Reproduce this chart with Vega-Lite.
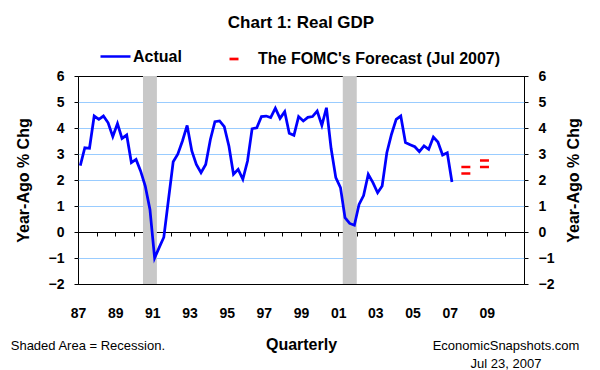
{
  "$schema": "https://vega.github.io/schema/vega-lite/v6.json",
  "width": 446,
  "height": 208,
  "autosize": {"type": "none"},
  "padding": {"left": 78, "top": 76, "right": 76, "bottom": 86},
  "background": "white",
  "title": {"text": "Chart 1: Real GDP", "font": "Liberation Sans", "fontSize": 17, "fontWeight": "bold", "color": "black", "anchor": "middle", "offset": 8},
  "config": {
    "font": "Liberation Sans",
    "view": {"stroke": "black", "strokeWidth": 1},
    "axis": {"labelFont": "Liberation Sans", "labelFontSize": 14, "labelFontWeight": "bold", "labelColor": "black", "titleFont": "Liberation Sans", "titleFontSize": 16, "titleFontWeight": "bold", "titleColor": "black", "tickColor": "black", "domainColor": "black", "tickSize": 4},
    "legend": {"labelFont": "Liberation Sans", "labelFontSize": 16, "labelFontWeight": "bold", "labelColor": "black", "padding": 0, "labelLimit": 0}
  },
  "datasets": {
    "gdp": [
      {"date": "1987-02-15", "pct": 2.55}, {"date": "1987-05-15", "pct": 3.24}, {"date": "1987-08-15", "pct": 3.22}, {"date": "1987-11-15", "pct": 4.46},
      {"date": "1988-02-15", "pct": 4.33}, {"date": "1988-05-15", "pct": 4.46}, {"date": "1988-08-15", "pct": 4.2}, {"date": "1988-11-15", "pct": 3.67},
      {"date": "1989-02-15", "pct": 4.17}, {"date": "1989-05-15", "pct": 3.6}, {"date": "1989-08-15", "pct": 3.73}, {"date": "1989-11-15", "pct": 2.67},
      {"date": "1990-02-15", "pct": 2.79}, {"date": "1990-05-15", "pct": 2.35}, {"date": "1990-08-15", "pct": 1.77}, {"date": "1990-11-15", "pct": 0.87},
      {"date": "1991-02-15", "pct": -1.0}, {"date": "1991-05-15", "pct": -0.6}, {"date": "1991-08-15", "pct": -0.2}, {"date": "1991-11-15", "pct": 1.26},
      {"date": "1992-02-15", "pct": 2.7}, {"date": "1992-05-15", "pct": 2.99}, {"date": "1992-08-15", "pct": 3.5}, {"date": "1992-11-15", "pct": 4.1},
      {"date": "1993-02-15", "pct": 3.12}, {"date": "1993-05-15", "pct": 2.6}, {"date": "1993-08-15", "pct": 2.28}, {"date": "1993-11-15", "pct": 2.6},
      {"date": "1994-02-15", "pct": 3.56}, {"date": "1994-05-15", "pct": 4.24}, {"date": "1994-08-15", "pct": 4.27}, {"date": "1994-11-15", "pct": 4.05},
      {"date": "1995-02-15", "pct": 3.3}, {"date": "1995-05-15", "pct": 2.22}, {"date": "1995-08-15", "pct": 2.41}, {"date": "1995-11-15", "pct": 2.03},
      {"date": "1996-02-15", "pct": 2.73}, {"date": "1996-05-15", "pct": 3.97}, {"date": "1996-08-15", "pct": 4.01}, {"date": "1996-11-15", "pct": 4.44},
      {"date": "1997-02-15", "pct": 4.46}, {"date": "1997-05-15", "pct": 4.4}, {"date": "1997-08-15", "pct": 4.76}, {"date": "1997-11-15", "pct": 4.37},
      {"date": "1998-02-15", "pct": 4.63}, {"date": "1998-05-15", "pct": 3.8}, {"date": "1998-08-15", "pct": 3.72}, {"date": "1998-11-15", "pct": 4.44},
      {"date": "1999-02-15", "pct": 4.27}, {"date": "1999-05-15", "pct": 4.41}, {"date": "1999-08-15", "pct": 4.44}, {"date": "1999-11-15", "pct": 4.65},
      {"date": "2000-02-15", "pct": 4.1}, {"date": "2000-05-15", "pct": 4.78}, {"date": "2000-08-15", "pct": 3.21}, {"date": "2000-11-15", "pct": 2.09},
      {"date": "2001-02-15", "pct": 1.71}, {"date": "2001-05-15", "pct": 0.55}, {"date": "2001-08-15", "pct": 0.33}, {"date": "2001-11-15", "pct": 0.26},
      {"date": "2002-02-15", "pct": 1.06}, {"date": "2002-05-15", "pct": 1.4}, {"date": "2002-08-15", "pct": 2.22}, {"date": "2002-11-15", "pct": 1.9},
      {"date": "2003-02-15", "pct": 1.51}, {"date": "2003-05-15", "pct": 1.77}, {"date": "2003-08-15", "pct": 3.05}, {"date": "2003-11-15", "pct": 3.76},
      {"date": "2004-02-15", "pct": 4.33}, {"date": "2004-05-15", "pct": 4.46}, {"date": "2004-08-15", "pct": 3.44}, {"date": "2004-11-15", "pct": 3.36},
      {"date": "2005-02-15", "pct": 3.28}, {"date": "2005-05-15", "pct": 3.09}, {"date": "2005-08-15", "pct": 3.31}, {"date": "2005-11-15", "pct": 3.18},
      {"date": "2006-02-15", "pct": 3.65}, {"date": "2006-05-15", "pct": 3.46}, {"date": "2006-08-15", "pct": 2.96}, {"date": "2006-11-15", "pct": 3.05},
      {"date": "2007-02-15", "pct": 1.92}
    ],
    "recessions": [
      {"start": "1990-07-01", "end": "1991-04-01"},
      {"start": "2001-04-01", "end": "2002-01-01"}
    ],
    "forecast": [
      {"date": "2007-11-15", "pct": 2.25}, {"date": "2007-11-15", "pct": 2.5},
      {"date": "2008-11-15", "pct": 2.5}, {"date": "2008-11-15", "pct": 2.75}
    ]
  },
  "layer": [
    {
      "data": {"name": "recessions"},
      "mark": {"type": "rect", "color": "#C8C8C8"},
      "encoding": {
        "x": {"field": "start", "type": "temporal",
          "scale": {"type": "utc", "domain": [{"year": 1987, "month": 1, "date": 1, "utc": true}, {"year": 2011, "month": 1, "date": 1, "utc": true}], "nice": false},
          "axis": {"orient": "bottom", "tickCount": {"interval": "year", "step": 1}, "labelExpr": "utcyear(datum.value) % 2 === 1 && utcyear(datum.value) < 2011 ? utcFormat(datum.value, '%y') : ''", "ticks": false, "domain": false, "grid": false, "labelPadding": 22, "labelFlush": false, "labelOverlap": false, "title": "Quarterly", "titlePadding": 16}},
        "x2": {"field": "end"}
      }
    },
    {
      "data": {"name": "gdp"},
      "mark": {"type": "line", "strokeWidth": 2.75, "interpolate": "linear"},
      "encoding": {
        "x": {"field": "date", "type": "temporal",
          "scale": {"type": "utc", "domain": [{"year": 1987, "month": 1, "date": 1, "utc": true}, {"year": 2011, "month": 1, "date": 1, "utc": true}], "nice": false},
          "axis": {"orient": "bottom", "offset": -52, "tickCount": {"interval": "year", "step": 1}, "labels": false, "domain": false, "ticks": true, "tickSize": 4, "grid": false, "title": null}},
        "y": {"field": "pct", "type": "quantitative",
          "scale": {"domain": [-2, 6], "nice": false, "zero": false},
          "axis": {"orient": "left", "values": [-2, -1, 0, 1, 2, 3, 4, 5, 6], "grid": true, "gridColor": {"condition": {"test": "datum.value === 0 || datum.value === 6 || datum.value === -2", "value": "black"}, "value": "#99CCFF"}, "domain": false, "labelPadding": 10, "title": "Year-Ago % Chg", "titlePadding": 17}},
        "stroke": {"datum": "Actual", "scale": {"domain": ["Actual"], "range": ["#0000FF"]},
          "legend": {"orient": "none", "legendX": 21, "legendY": -36, "title": null, "symbolType": "stroke", "symbolSize": 900, "symbolStrokeWidth": 2.5, "labelOffset": 1}}
      }
    },
    {
      "data": {"name": "forecast"},
      "mark": {"type": "tick", "orient": "horizontal", "size": 9, "thickness": 2.5, "opacity": 1},
      "encoding": {
        "x": {"field": "date", "type": "temporal",
          "scale": {"type": "utc", "domain": [{"year": 1987, "month": 1, "date": 1, "utc": true}, {"year": 2011, "month": 1, "date": 1, "utc": true}], "nice": false},
          "axis": null},
        "y": {"field": "pct", "type": "quantitative",
          "scale": {"domain": [-2, 6], "nice": false, "zero": false},
          "axis": {"orient": "right", "values": [-2, -1, 0, 1, 2, 3, 4, 5, 6], "grid": false, "domain": false, "labelPadding": 10, "title": "Year-Ago % Chg", "titleAngle": 270, "titlePadding": 28}},
        "color": {"datum": "The FOMC's Forecast (Jul 2007)", "scale": {"domain": ["The FOMC's Forecast (Jul 2007)"], "range": ["#FF0000"]},
          "legend": {"orient": "none", "legendX": 148, "legendY": -25, "title": null, "symbolType": "M-1,-0.3H1V0.3H-1Z", "symbolSize": 81, "symbolStrokeWidth": 0, "symbolOpacity": 1, "labelOffset": 16}}
      }
    },
    {
      "data": {"values": [{"note": "Shaded Area = Recession."}]},
      "mark": {"type": "text", "align": "left", "baseline": "middle", "font": "Liberation Sans", "fontSize": 13, "color": "black"},
      "encoding": {
        "x": {"datum": {"year": 1983, "month": 5, "date": 20, "utc": true}, "type": "temporal", "scale": {"type": "utc", "domain": [{"year": 1987, "month": 1, "date": 1, "utc": true}, {"year": 2011, "month": 1, "date": 1, "utc": true}], "nice": false}, "axis": null},
        "y": {"datum": -4.385, "type": "quantitative", "scale": {"domain": [-2, 6], "nice": false, "zero": false}, "axis": null},
        "text": {"field": "note", "type": "nominal"}
      }
    },
    {
      "data": {"values": [{"note": "EconomicSnapshots.com"}]},
      "mark": {"type": "text", "align": "center", "baseline": "middle", "font": "Liberation Sans", "fontSize": 13, "color": "black"},
      "encoding": {
        "x": {"datum": {"year": 2010, "month": 1, "date": 12, "utc": true}, "type": "temporal", "scale": {"type": "utc", "domain": [{"year": 1987, "month": 1, "date": 1, "utc": true}, {"year": 2011, "month": 1, "date": 1, "utc": true}], "nice": false}, "axis": null},
        "y": {"datum": -4.385, "type": "quantitative", "scale": {"domain": [-2, 6], "nice": false, "zero": false}, "axis": null},
        "text": {"field": "note", "type": "nominal"}
      }
    },
    {
      "data": {"values": [{"note": "Jul 23, 2007"}]},
      "mark": {"type": "text", "align": "center", "baseline": "middle", "font": "Liberation Sans", "fontSize": 13, "color": "black"},
      "encoding": {
        "x": {"datum": {"year": 2010, "month": 1, "date": 12, "utc": true}, "type": "temporal", "scale": {"type": "utc", "domain": [{"year": 1987, "month": 1, "date": 1, "utc": true}, {"year": 2011, "month": 1, "date": 1, "utc": true}], "nice": false}, "axis": null},
        "y": {"datum": -5.06, "type": "quantitative", "scale": {"domain": [-2, 6], "nice": false, "zero": false}, "axis": null},
        "text": {"field": "note", "type": "nominal"}
      }
    }
  ],
  "resolve": {"axis": {"x": "independent", "y": "independent"}}
}
